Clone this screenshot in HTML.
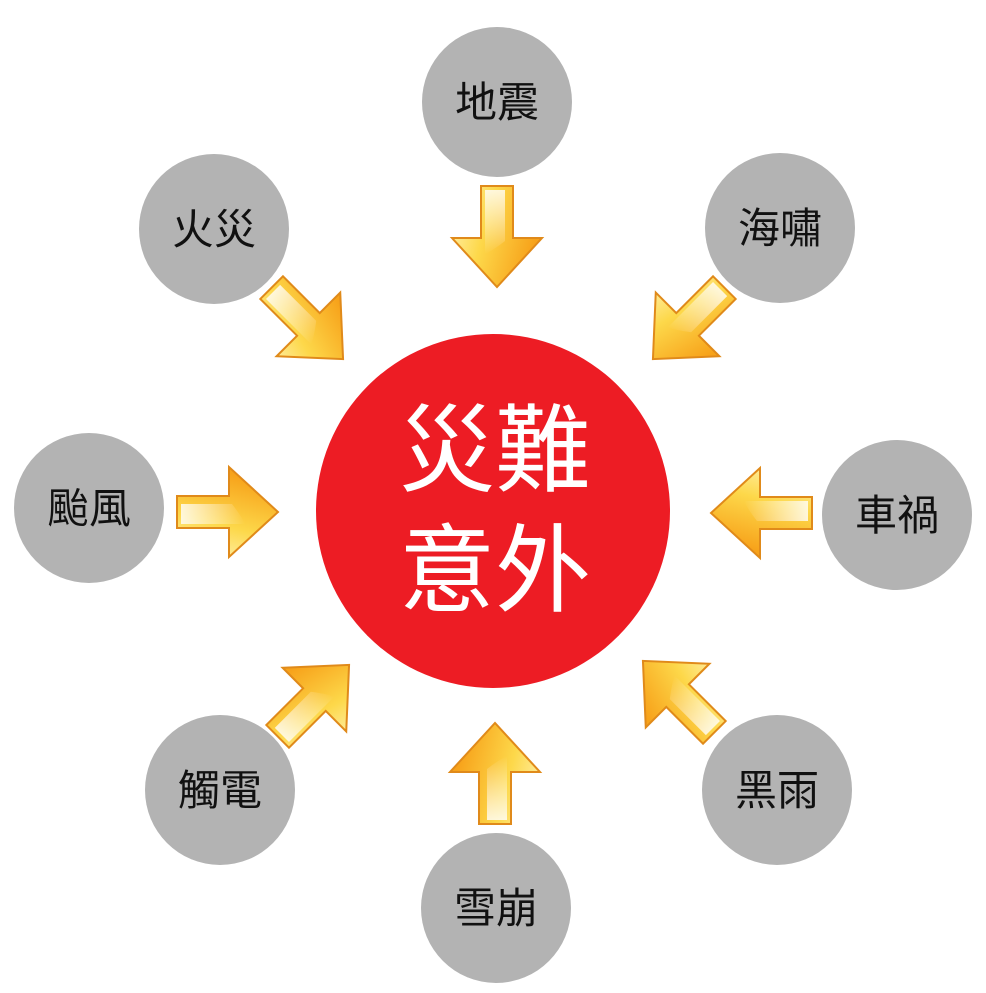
<!DOCTYPE html>
<html><head><meta charset="utf-8"><style>
html,body{margin:0;padding:0;background:#fff;}
svg{display:block;}
text{font-family:"Liberation Sans","Noto Sans CJK TC",sans-serif;}
</style></head><body>
<svg width="986" height="993" viewBox="0 0 986 993" xmlns="http://www.w3.org/2000/svg">
<defs>
<linearGradient id="g" x1="0" y1="0" x2="1" y2="0.3">
<stop offset="0" stop-color="#fff3b8"/>
<stop offset="0.45" stop-color="#fdd84a"/>
<stop offset="1" stop-color="#f7a21a"/>
</linearGradient>
<linearGradient id="h" x1="0" y1="0" x2="0" y2="1">
<stop offset="0" stop-color="#ffffff" stop-opacity="0.8"/>
<stop offset="1" stop-color="#ffffff" stop-opacity="0"/>
</linearGradient>
<g id="a">
<path d="M-16,-50 L16,-50 L16,2 L45,2 L0,51 L-45,2 L-16,2 Z" fill="url(#g)" stroke="#e08a1a" stroke-width="2"/>
<path d="M-12,-46 L8,-46 L8,5 Q-5,15 -12,18 Z" fill="url(#h)"/>
</g>
</defs>
<circle cx="493" cy="511" r="177" fill="#ed1c24"/>
<text x="495" y="484" font-size="96" fill="#fff" text-anchor="middle">災難</text>
<text x="495" y="604" font-size="96" fill="#fff" text-anchor="middle">意外</text>
<g fill="#b3b3b3">
<circle cx="497" cy="102" r="75"/>
<circle cx="780" cy="228" r="75"/>
<circle cx="897" cy="515" r="75"/>
<circle cx="777" cy="790" r="75"/>
<circle cx="496" cy="908" r="75"/>
<circle cx="220" cy="790" r="75"/>
<circle cx="89" cy="508" r="75"/>
<circle cx="214" cy="229" r="75"/>
</g>
<g font-size="42" fill="#111" text-anchor="middle">
<text x="497" y="117">地震</text>
<text x="780" y="243">海嘯</text>
<text x="897" y="530">車禍</text>
<text x="777" y="805">黑雨</text>
<text x="496" y="923">雪崩</text>
<text x="220" y="805">觸電</text>
<text x="89" y="523">颱風</text>
<text x="214" y="244">火災</text>
</g>
<use href="#a" transform="translate(497,236)"/>
<use href="#a" transform="translate(307,323) rotate(-45)"/>
<use href="#a" transform="translate(689,323) rotate(45)"/>
<use href="#a" transform="translate(762,513) rotate(90)"/>
<use href="#a" transform="translate(679,697) rotate(135)"/>
<use href="#a" transform="translate(495,774) rotate(180)"/>
<use href="#a" transform="translate(313,701) rotate(225)"/>
<use href="#a" transform="translate(227,512) rotate(-90)"/>
</svg>
</body></html>
